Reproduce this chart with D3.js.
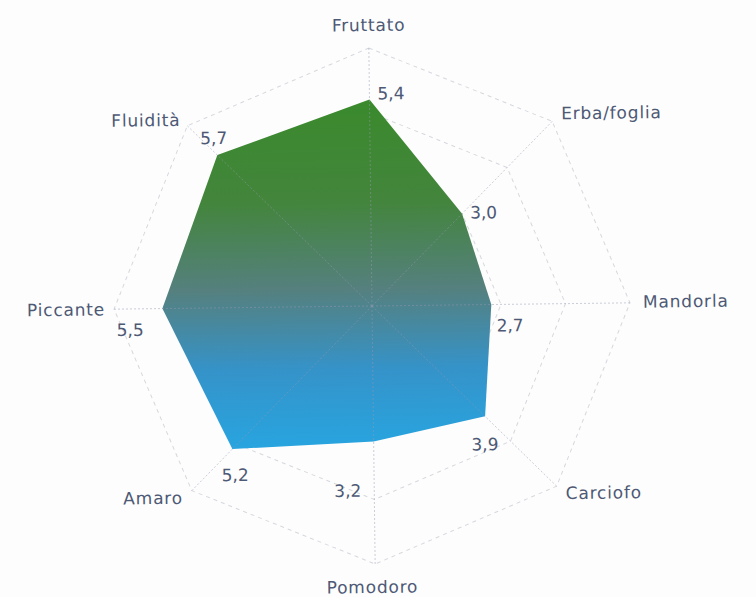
<!DOCTYPE html>
<html>
<head>
<meta charset="utf-8">
<script src="https://cdn.jsdelivr.net/npm/d3@7"></script>
<style>
  body { margin: 0; background: #fdfdfd; }
  svg text { font-family: "DejaVu Sans", sans-serif; fill: #4d5975; }
</style>
</head>
<body>
<div id="chart"></div>
<script>
// dati
var categorie = ["Fruttato", "Erba/foglia", "Mandorla", "Carciofo", "Pomodoro", "Amaro", "Piccante", "Fluidità"];
var valori = [5.4, 3.0, 2.7, 3.9, 3.2, 5.2, 5.5, 5.7];
var livelliGriglia = [1, 3, 5, 7];

// posizioni delle etichette dei valori (messe a mano come nell'originale)
var offsetValori = [[8, 0], [8, 5], [5, 27], [-14, 34], [-40, 55], [-11, 32], [-46, 27], [-17, -11]];
// posizioni delle etichette delle categorie
var offsetCategorie = [[0, -17, "middle"], [9, -2, "start"], [13, 5, "start"], [9, 13, "start"],
                       [-3, 29, "middle"], [-9, 13, "end"], [-9, 6, "end"], [-7, 0, "end"]];

var width = 756, height = 597;
var cx = 372, cy = 306, R = 258;

var svg = d3.select("#chart").append("svg")
    .attr("width", width)
    .attr("height", height);

var r = d3.scaleLinear().domain([-1, 7]).range([0, R]);
var angolo = d3.scaleLinear().domain([0, categorie.length]).range([0, 2 * Math.PI]);

function punto(i, v) {
    var a = angolo(i);
    return [Math.sin(a) * r(v), -Math.cos(a) * r(v)];
}

//gradiente del riempimento
var grad = svg.append("defs").append("linearGradient")
    .attr("id", "riempimento")
    .attr("gradientUnits", "userSpaceOnUse")
    .attr("x1", 0).attr("x2", 0)
    .attr("y1", -210).attr("y2", 140);
grad.append("stop").attr("offset", "0%").attr("stop-color", "#3a8a2c");
grad.append("stop").attr("offset", "30%").attr("stop-color", "#43853c");
grad.append("stop").attr("offset", "55%").attr("stop-color", "#55807e");
grad.append("stop").attr("offset", "78%").attr("stop-color", "#3593c9");
grad.append("stop").attr("offset", "100%").attr("stop-color", "#28a4df");

var g = svg.append("g")
    .attr("transform", "translate(" + cx + "," + cy + ") rotate(-0.7)");

//griglia
g.selectAll(".anello")
    .data(livelliGriglia)
    .enter().append("polygon")
    .attr("class", "anello")
    .attr("points", function(l) {
        return categorie.map(function(c, i) { return punto(i, l).join(","); }).join(" ");
    })
    .attr("fill", "none")
    .attr("stroke", "#d6d8de")
    .attr("stroke-width", 1)
    .attr("stroke-dasharray", "4,4");

//poligono dei valori
var linea = d3.line().curve(d3.curveLinearClosed);
g.append("path")
    .attr("d", linea(valori.map(function(v, i) { return punto(i, v); })))
    .attr("fill", "url(#riempimento)");

//assi
g.selectAll(".asse")
    .data(categorie)
    .enter().append("line")
    .attr("class", "asse")
    .attr("x1", 0).attr("y1", 0)
    .attr("x2", function(c, i) { return punto(i, 7)[0]; })
    .attr("y2", function(c, i) { return punto(i, 7)[1]; })
    .attr("stroke", "#9497b0")
    .attr("stroke-opacity", 0.6)
    .attr("stroke-width", 0.8)
    .attr("stroke-dasharray", "2,2");

//etichette categorie
g.selectAll(".categoria")
    .data(categorie)
    .enter().append("text")
    .attr("class", "categoria")
    .attr("x", function(c, i) { return punto(i, 7)[0] + offsetCategorie[i][0]; })
    .attr("y", function(c, i) { return punto(i, 7)[1] + offsetCategorie[i][1]; })
    .attr("text-anchor", function(c, i) { return offsetCategorie[i][2]; })
    .attr("font-size", 17)
    .attr("letter-spacing", 0.8)
    .text(function(c) { return c; });

//etichette valori
g.selectAll(".valore")
    .data(valori)
    .enter().append("text")
    .attr("class", "valore")
    .attr("x", function(v, i) { return punto(i, v)[0] + offsetValori[i][0]; })
    .attr("y", function(v, i) { return punto(i, v)[1] + offsetValori[i][1]; })
    .attr("font-size", 17)
    .text(function(v) { return d3.format(".1f")(v).replace(".", ","); });
</script>
</body>
</html>
